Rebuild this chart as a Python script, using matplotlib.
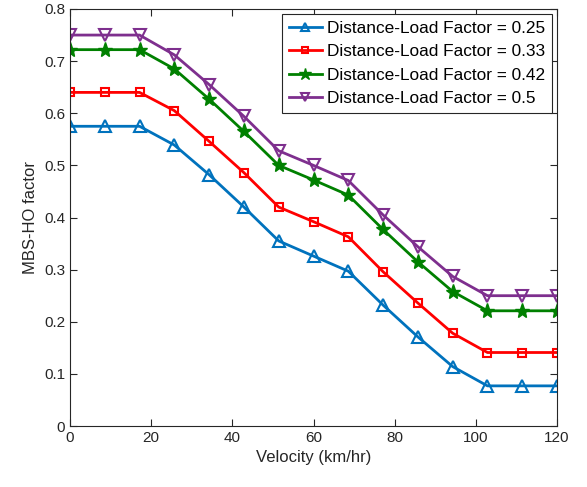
import numpy as np
import matplotlib
matplotlib.use('Agg')
import matplotlib.pyplot as plt

plt.rcParams['font.family'] = ['Liberation Sans', 'DejaVu Sans']

# velocity (km/hr)
velocity = [0, 8.57, 17.14, 25.71, 34.29, 42.86, 51.43, 60, 68.57, 77.14, 85.71, 94.29, 102.86, 111.43, 120]

# MBS-HO factor for each distance-load factor
f025 = [0.575, 0.575, 0.575, 0.539, 0.482, 0.420, 0.355, 0.326, 0.297, 0.232, 0.171, 0.114, 0.077, 0.077, 0.077]
f033 = [0.640, 0.640, 0.640, 0.605, 0.546, 0.486, 0.420, 0.392, 0.363, 0.296, 0.236, 0.178, 0.141, 0.141, 0.141]
f042 = [0.722, 0.722, 0.722, 0.685, 0.627, 0.565, 0.500, 0.472, 0.443, 0.377, 0.315, 0.258, 0.221, 0.221, 0.221]
f050 = [0.750, 0.750, 0.750, 0.712, 0.655, 0.594, 0.528, 0.500, 0.471, 0.405, 0.344, 0.287, 0.250, 0.250, 0.250]

labels = ['Distance-Load Factor = 0.25', 'Distance-Load Factor = 0.33',
          'Distance-Load Factor = 0.42', 'Distance-Load Factor = 0.5']

fig = plt.figure(figsize=(5.87, 4.87), dpi=100)
ax = fig.add_axes([70/587, 1-426/487, (557-70)/587, (426-9)/487])

lw = 2
ax.plot(velocity, f025, color='#0072BD', marker='^', markersize=8, markerfacecolor='none', markeredgewidth=1.5, lw=lw, label=labels[0])
ax.plot(velocity, f033, color='#FF0000', marker='s', markersize=6, markerfacecolor='none', markeredgewidth=1.5, lw=lw, label=labels[1])
ax.plot(velocity, f042, color='#008000', marker='*', markersize=11, lw=lw, label=labels[2])
ax.plot(velocity, f050, color='#7E2F8E', marker='v', markersize=8, markerfacecolor='none', markeredgewidth=1.5, lw=lw, label=labels[3])

ax.set_xlim(0, 120)
ax.set_ylim(0, 0.8)
ax.set_xticks(np.arange(0, 121, 20))
ax.set_yticks(np.arange(0, 0.81, 0.1))
ax.set_yticklabels(['0', '0.1', '0.2', '0.3', '0.4', '0.5', '0.6', '0.7', '0.8'])
ax.tick_params(direction='in', top=True, right=True, labelsize=11, colors='#262626', length=5)
for s in ax.spines.values():
    s.set_color('#262626')
    s.set_linewidth(0.8)

ax.set_xlabel('Velocity (km/hr)', fontsize=12, color='#262626')
ax.set_ylabel('MBS-HO factor', fontsize=12, color='#262626')

leg = ax.legend(loc='upper right', fontsize=12.4, fancybox=False, edgecolor='#262626',
                framealpha=1, borderpad=0.4, labelspacing=0.48, handlelength=1.9,
                handletextpad=0.3, borderaxespad=0.3, markerscale=0.8)
leg.get_frame().set_linewidth(0.8)

fig.savefig('out.png', dpi=100)
